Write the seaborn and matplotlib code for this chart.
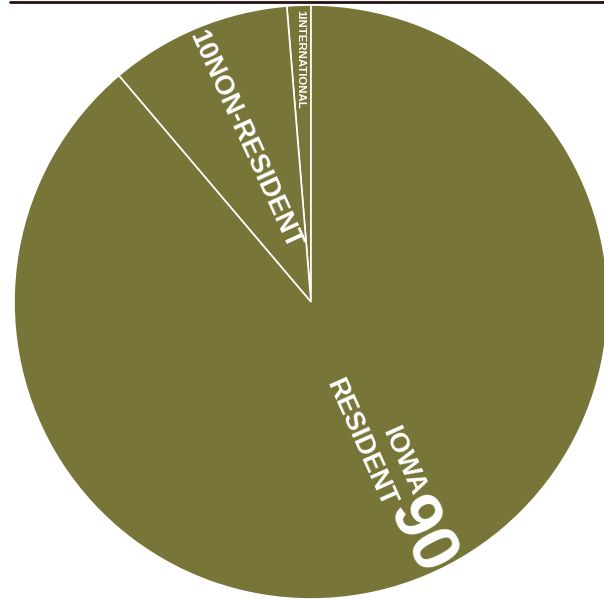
import matplotlib
matplotlib.use("Agg")
import matplotlib.pyplot as plt
from matplotlib.lines import Line2D
import seaborn as sns

# enrollment shares (counter-clockwise from 12 o'clock)
groups = ["INTERNATIONAL", "NON-RESIDENT", "IOWA RESIDENT"]
shares = [1.3, 9.9, 88.8]
shown = ["1", "10", "90"]

olive = "#787539"

sns.set_theme(style="white")
plt.rcParams["font.family"] = ["Liberation Sans", "DejaVu Sans"]
plt.rcParams["font.weight"] = "bold"

fig = plt.figure(figsize=(6.04, 5.99), dpi=100)
ax = fig.add_axes([14 / 604, 0, 594 / 604, 594 / 599])
ax.pie(shares, startangle=90, counterclock=True, radius=1,
       colors=[olive] * len(shares),
       wedgeprops=dict(edgecolor="white", linewidth=1.2))
ax.set_xlim(-1, 1)
ax.set_ylim(-1, 1)
ax.set_aspect("equal")
ax.axis("off")

# labels
ax.text(-0.037, 0.818, shown[0] + groups[0], rotation=-90, color="white",
        fontsize=8.2, ha="center", va="center", rotation_mode="anchor")
ax.text(-0.222, 0.545, shown[1] + groups[1], rotation=-65.5, color="white",
        fontsize=19.5, ha="center", va="center", rotation_mode="anchor")
ax.text(0.165, -0.475, "RESIDENT", rotation=-66, color="white",
        fontsize=19.5, ha="center", va="center", rotation_mode="anchor")
ax.text(0.31, -0.535, "IOWA", rotation=-66, color="white",
        fontsize=19.5, ha="center", va="center", rotation_mode="anchor")
ax.text(0.368, -0.79, shown[2], rotation=-63, color="white",
        fontsize=49, ha="center", va="center", rotation_mode="anchor")

# rule across the top
fig.add_artist(Line2D([10 / 604, 1], [1 - 2 / 599, 1 - 2 / 599],
                      transform=fig.transFigure, color="#2b1010", linewidth=2))

fig.savefig("out.png", dpi=100)
